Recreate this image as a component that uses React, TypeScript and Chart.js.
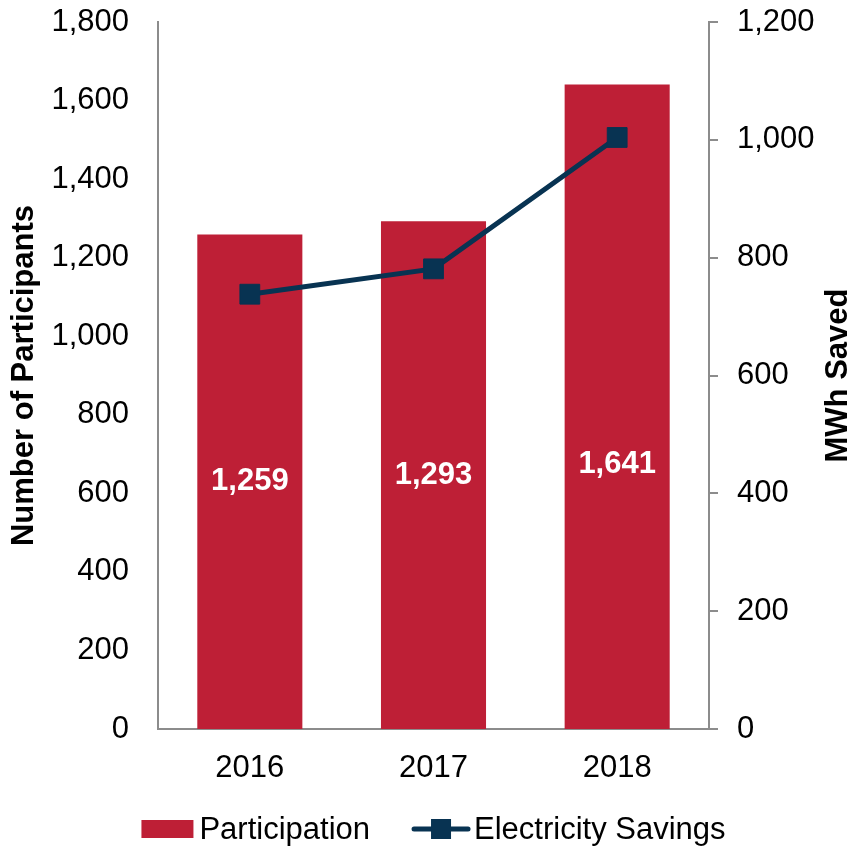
import React, { useEffect, useRef } from "react";
import { Chart, registerables } from "chart.js";

Chart.register(...registerables);

const categories = ["2016", "2017", "2018"];
const participation = [1259, 1293, 1641];
const electricitySavings = [738, 781, 1004];
const barLabelFraction = [0.5, 0.5, 0.41];

const FONT = "'Liberation Sans', Arial, sans-serif";
const RED = "#BE1F36";
const NAVY = "#083352";
const GRAY = "#8C8C8C";

const fmt = (v: number) => Number(v).toLocaleString("en-US");

const barLabels = {
  id: "barLabels",
  afterDatasetsDraw(chart: any) {
    const ctx = chart.ctx;
    const meta = chart.getDatasetMeta(1);
    const yScale = chart.scales.y;
    ctx.save();
    ctx.fillStyle = "#ffffff";
    ctx.font = `bold 31px ${FONT}`;
    ctx.textAlign = "center";
    ctx.textBaseline = "middle";
    meta.data.forEach((bar: any, i: number) => {
      const v = participation[i];
      const y = yScale.getPixelForValue(v * barLabelFraction[i]);
      ctx.fillText(fmt(v), bar.x, y);
    });
    ctx.restore();
  },
};

const rightTitle = {
  id: "rightTitle",
  afterDraw(chart: any) {
    const ctx = chart.ctx;
    const area = chart.chartArea;
    ctx.save();
    ctx.font = `bold 31px ${FONT}`;
    ctx.fillStyle = "#000";
    ctx.textAlign = "center";
    ctx.textBaseline = "middle";
    ctx.translate(chart.width - 20, (area.top + area.bottom) / 2);
    ctx.rotate(-Math.PI / 2);
    ctx.fillText("MWh Saved", 0, 0);
    ctx.restore();
  },
};

const customLegend = {
  id: "customLegend",
  afterDraw(chart: any) {
    const ctx = chart.ctx;
    const area = chart.chartArea;
    ctx.save();
    ctx.font = `31px ${FONT}`;
    ctx.textBaseline = "middle";
    ctx.textAlign = "left";
    const t1 = "Participation";
    const t2 = "Electricity Savings";
    const w1 = ctx.measureText(t1).width;
    const w2 = ctx.measureText(t2).width;
    const boxW = 52, gap1 = 6, gap2 = 42, lineW = 58, gap3 = 4;
    const total = boxW + gap1 + w1 + gap2 + lineW + gap3 + w2;
    const cx = (area.left + area.right) / 2;
    let x = cx - total / 2;
    const cy = 829;
    ctx.fillStyle = RED;
    ctx.fillRect(x, cy - 9, boxW, 18);
    x += boxW + gap1;
    ctx.fillStyle = "#000";
    ctx.fillText(t1, x, cy + 1);
    x += w1 + gap2;
    ctx.strokeStyle = NAVY;
    ctx.lineWidth = 5;
    ctx.lineCap = "round";
    ctx.beginPath();
    ctx.moveTo(x + 2, cy);
    ctx.lineTo(x + lineW - 2, cy);
    ctx.stroke();
    ctx.fillStyle = NAVY;
    ctx.fillRect(x + lineW / 2 - 10, cy - 10, 20, 20);
    x += lineW + gap3;
    ctx.fillStyle = "#000";
    ctx.fillText(t2, x, cy + 1);
    ctx.restore();
  },
};

export default function App() {
  const ref = useRef<HTMLCanvasElement | null>(null);

  useEffect(() => {
    document.body.style.margin = "0";
    const canvas = ref.current;
    if (!canvas) return;
    const chart = new Chart(canvas, {
      type: "bar",
      data: {
        labels: categories,
        datasets: [
          {
            type: "line",
            label: "Electricity Savings",
            data: electricitySavings,
            yAxisID: "y1",
            borderColor: NAVY,
            backgroundColor: NAVY,
            borderWidth: 5,
            pointStyle: "rect",
            pointRadius: 14,
            pointBorderWidth: 1,
            pointBackgroundColor: NAVY,
            pointBorderColor: NAVY,
            tension: 0,
            order: 0,
          } as any,
          {
            type: "bar",
            label: "Participation",
            data: participation,
            yAxisID: "y",
            backgroundColor: RED,
            barPercentage: 0.572,
            categoryPercentage: 1,
            order: 1,
          },
        ],
      },
      options: {
        responsive: false,
        animation: false,
        devicePixelRatio: 1,
        layout: { padding: { top: 22, left: 2, right: 0, bottom: 0 } },
        plugins: {
          legend: { display: false },
          tooltip: { enabled: false },
        },
        scales: {
          x: {
            grid: { display: false, drawTicks: false },
            border: { display: true, color: GRAY, width: 2 },
            ticks: {
              color: "#000",
              font: { family: FONT, size: 31 },
              padding: 21,
            },
            afterFit: (scale: any) => {
              scale.height = 118;
              scale.paddingTop = 0;
              scale.paddingBottom = 0;
            },
          },
          y: {
            position: "left",
            min: 0,
            max: 1800,
            grid: { display: false, drawTicks: false },
            border: { display: true, color: GRAY, width: 2 },
            ticks: {
              stepSize: 200,
              color: "#000",
              font: { family: FONT, size: 31 },
              padding: 29,
              callback: (v: any) => fmt(v),
            },
            title: {
              display: true,
              text: "Number of Participants",
              color: "#000",
              font: { family: FONT, size: 31, weight: "bold" },
              padding: { top: 4, bottom: 4 },
            },
            afterFit: (scale: any) => {
              scale.width = 156;
              scale.paddingTop = 0;
              scale.paddingBottom = 0;
            },
          },
          y1: {
            position: "right",
            min: 0,
            max: 1200,
            grid: {
              display: true,
              drawOnChartArea: false,
              drawTicks: true,
              tickLength: 9,
              color: GRAY,
              lineWidth: 2,
            },
            border: { display: true, color: GRAY, width: 2 },
            ticks: {
              stepSize: 200,
              color: "#000",
              font: { family: FONT, size: 31 },
              padding: 19,
              callback: (v: any) => fmt(v),
            },
            afterFit: (scale: any) => {
              scale.width = 149;
              scale.paddingTop = 0;
              scale.paddingBottom = 0;
            },
          },
        },
      },
      plugins: [barLabels, rightTitle, customLegend],
    });
    return () => chart.destroy();
  }, []);

  return (
    <div style={{ width: 858, height: 847 }}>
      <canvas ref={ref} width={858} height={847} style={{ display: "block" }} />
    </div>
  );
}
